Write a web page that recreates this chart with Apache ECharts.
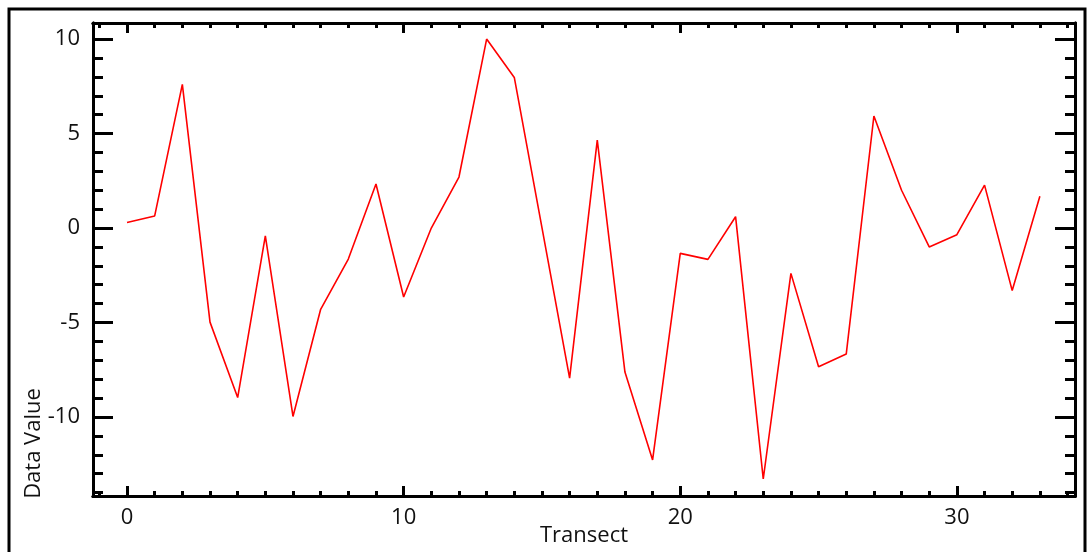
<!DOCTYPE html>
<html>
<head>
<meta charset="utf-8">
<script src="https://cdn.jsdelivr.net/npm/echarts@6/dist/echarts.min.js"></script>
<style>
html,body{margin:0;padding:0;background:#fff;}
#c{width:1090px;height:552px;}
</style>
</head>
<body>
<div id="c"></div>
<script>
// Data
const transect = [0,1,2,3,4,5,6,7,8,9,10,11,12,13,14,15,16,17,18,19,20,21,22,23,24,25,26,27,28,29,30,31,32,33];
const dataValue = [0.29,0.64,7.6,-4.98,-8.97,-0.42,-9.97,-4.3,-1.64,2.33,-3.65,0.0,2.7,10.0,7.97,0.02,-7.94,4.65,-7.62,-12.27,-1.34,-1.66,0.6,-13.28,-2.4,-7.34,-6.67,5.93,2.0,-1.0,-0.35,2.27,-3.31,1.68];
const xMajorTicks = [0,10,20,30];
const xMinorTicks = [-1,0,1,2,3,4,5,6,7,8,9,10,11,12,13,14,15,16,17,18,19,20,21,22,23,24,25,26,27,28,29,30,31,32,33,34];
const yMajorTicks = [-10,-5,0,5,10];
const yMinorTicks = [-14,-13,-12,-11,-10,-9,-8,-7,-6,-5,-4,-3,-2,-1,0,1,2,3,4,5,6,7,8,9,10];

const X_MIN = -1.23, X_MAX = 34.27, Y_MIN = -14.18, Y_MAX = 10.85;
const FONT = '"Open Sans", "Noto Sans", sans-serif';
const FS = 22;
const LINE = {color:'#000', width:3};

function xAx(pos, ticks, len, labels, extra) {
  return Object.assign({
    type:'value', position:pos, min:X_MIN, max:X_MAX,
    axisLine:{show:true, onZero:false, lineStyle:LINE},
    axisTick:{show:true, inside:true, length:len, customValues:ticks, lineStyle:LINE},
    axisLabel:labels ? {show:true, customValues:ticks, fontSize:FS, color:'#111', fontFamily:FONT, margin:11} : {show:false},
    splitLine:{show:false}, minorTick:{show:false}
  }, extra||{});
}
function yAx(pos, ticks, len, labels, extra) {
  return Object.assign({
    type:'value', position:pos, min:Y_MIN, max:Y_MAX,
    axisLine:{show:true, onZero:false, lineStyle:LINE},
    axisTick:{show:true, inside:true, length:len, customValues:ticks, lineStyle:LINE},
    axisLabel:labels ? {show:true, customValues:ticks, fontSize:FS, color:'#111', fontFamily:FONT, margin:13} : {show:false},
    splitLine:{show:false}, minorTick:{show:false}
  }, extra||{});
}

const chart = echarts.init(document.getElementById('c'), null, {renderer:'canvas'});
chart.setOption({
  animation:false,
  backgroundColor:'#fff',
  grid:{left:93, top:23, right:15, bottom:56, containLabel:false, outerBoundsMode:'none'},
  xAxis:[
    xAx('bottom', xMajorTicks, 10, true, {name:'Transect', nameLocation:'middle', nameGap:29, nameMoveOverlap:false,
      nameTextStyle:{fontSize:FS, color:'#111', fontFamily:FONT}}),
    xAx('bottom', xMinorTicks, 5, false),
    xAx('top', xMajorTicks, 10, false),
    xAx('top', xMinorTicks, 5, false)
  ],
  yAxis:[
    yAx('left', yMajorTicks, 20, true, {name:'Data Value', nameLocation:'middle', nameGap:48, nameMoveOverlap:false,
      nameTextStyle:{fontSize:FS, color:'#111', fontFamily:FONT, padding:[0,368,0,0]}}),
    yAx('left', yMinorTicks, 10, false),
    yAx('right', yMajorTicks, 20, false),
    yAx('right', yMinorTicks, 10, false)
  ],
  graphic:[{
    type:'rect', silent:true, z:100,
    shape:{x:9, y:9, width:1076, height:560},
    style:{fill:'none', stroke:'#000', lineWidth:3}
  }],
  series:[{
    type:'line', xAxisIndex:0, yAxisIndex:0,
    data: transect.map((t,i)=>[t, dataValue[i]]),
    showSymbol:false, symbol:'none',
    lineStyle:{color:'#ff0000', width:1.6},
    itemStyle:{color:'#ff0000'}
  }]
});
</script>
</body>
</html>
